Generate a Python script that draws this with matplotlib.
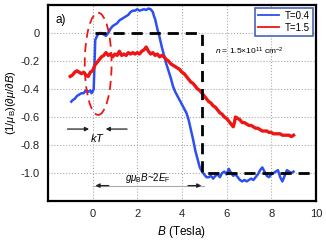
import matplotlib
matplotlib.use("Agg")
import matplotlib.pyplot as plt
from matplotlib.patches import Ellipse

plt.rcParams['font.family'] = ['Liberation Sans', 'DejaVu Sans']
plt.rcParams['mathtext.fontset'] = 'custom'
plt.rcParams['mathtext.rm'] = 'Liberation Sans'
plt.rcParams['mathtext.it'] = 'Liberation Sans:italic'

# ---- data ----
blue_x = [-0.95, -0.9, -0.8, -0.7, -0.6, -0.5, -0.4, -0.3, -0.2, -0.1, -0.05, 0.0, 0.05, 0.08, 0.12,
          0.2, 0.3, 0.4, 0.5, 0.6, 0.7, 0.8, 0.9, 1.0, 1.1, 1.2, 1.3, 1.4, 1.5, 1.6, 1.7, 1.8, 1.9,
          2.0, 2.1, 2.2, 2.3, 2.4, 2.5, 2.6, 2.7, 2.75, 2.8, 2.9, 3.0, 3.1, 3.2, 3.3, 3.4, 3.5, 3.6,
          3.7, 3.8, 3.9, 4.0, 4.1, 4.2, 4.3, 4.4, 4.5, 4.6, 4.7, 4.8, 4.9, 5.0, 5.1, 5.2, 5.3, 5.4,
          5.5, 5.6, 5.7, 5.8, 5.9, 6.0, 6.1, 6.2, 6.3, 6.4, 6.5, 6.6, 6.7, 6.8, 6.9, 7.0, 7.1, 7.2,
          7.3, 7.4, 7.5, 7.6, 7.7, 7.8, 7.9, 8.0, 8.1, 8.2, 8.3, 8.4, 8.5, 8.6, 8.7, 8.8, 8.9, 9.0]
blue_y = [-0.49, -0.48, -0.47, -0.45, -0.44, -0.43, -0.43, -0.41, -0.42, -0.41, -0.43, -0.42, -0.40, -0.25, -0.05,
          -0.02, 0.0, 0.0, -0.01, -0.02, 0.0, 0.03, 0.05, 0.06, 0.07, 0.09, 0.10, 0.11, 0.12, 0.13, 0.15, 0.16, 0.16,
          0.17, 0.16, 0.165, 0.17, 0.165, 0.175, 0.17, 0.15, 0.12, 0.10, 0.03, -0.03, -0.10, -0.16, -0.22, -0.27, -0.32, -0.38,
          -0.42, -0.45, -0.48, -0.51, -0.54, -0.57, -0.62, -0.69, -0.76, -0.84, -0.90, -0.96, -0.99, -1.01, -1.03, -1.03, -1.02, -1.04,
          -1.02, -1.01, -1.03, -1.0, -0.99, -1.01, -0.97, -1.0, -1.02, -1.01, -1.03, -1.05, -1.06, -1.05, -1.06, -1.05, -1.04, -1.05,
          -1.03, -1.01, -0.98, -0.96, -0.99, -1.02, -1.03, -1.01, -1.0, -0.99, -0.98, -1.03, -1.06, -1.02, -0.98, -0.99, -1.0, -0.99]

red_x = [-1.0, -0.9, -0.8, -0.7, -0.6, -0.5, -0.4, -0.3, -0.2, -0.1, 0.0, 0.1, 0.2, 0.3, 0.4, 0.5, 0.6,
         0.7, 0.8, 0.9, 1.0, 1.1, 1.2, 1.3, 1.4, 1.5, 1.6, 1.7, 1.8, 1.9, 2.0, 2.1, 2.2, 2.3, 2.4, 2.5,
         2.6, 2.7, 2.8, 2.9, 3.0, 3.1, 3.2, 3.3, 3.4, 3.5, 3.6, 3.7, 3.8, 3.9, 4.0, 4.1, 4.2, 4.3, 4.4,
         4.5, 4.6, 4.7, 4.8, 4.9, 5.0, 5.1, 5.2, 5.3, 5.4, 5.5, 5.6, 5.7, 5.8, 5.9, 6.0, 6.1, 6.2, 6.3,
         6.35, 6.4, 6.5, 6.6, 6.7, 6.8, 6.9, 7.0, 7.1, 7.2, 7.3, 7.4, 7.5, 7.6, 7.7, 7.8, 7.9, 8.0, 8.1,
         8.2, 8.3, 8.4, 8.5, 8.6, 8.7, 8.8, 8.9, 9.0]
red_y = [-0.31, -0.30, -0.28, -0.27, -0.28, -0.29, -0.28, -0.30, -0.31, -0.28, -0.27, -0.23, -0.21, -0.19, -0.17, -0.16, -0.14,
         -0.16, -0.15, -0.17, -0.15, -0.16, -0.13, -0.16, -0.15, -0.16, -0.14, -0.15, -0.14, -0.15, -0.14, -0.15, -0.13, -0.12, -0.10, -0.13,
         -0.15, -0.14, -0.16, -0.15, -0.17, -0.16, -0.17, -0.19, -0.20, -0.22, -0.23, -0.24, -0.25, -0.26, -0.28, -0.29, -0.31, -0.33, -0.35,
         -0.36, -0.38, -0.40, -0.41, -0.43, -0.45, -0.47, -0.49, -0.50, -0.52, -0.53, -0.55, -0.57, -0.58, -0.60, -0.61, -0.63, -0.65, -0.67,
         -0.64, -0.60, -0.61, -0.62, -0.64, -0.64, -0.65, -0.66, -0.66, -0.67, -0.68, -0.68, -0.69, -0.70, -0.70, -0.70, -0.71, -0.71, -0.72,
         -0.72, -0.72, -0.72, -0.73, -0.73, -0.73, -0.73, -0.74, -0.73]

step_x = [0.1, 4.9, 4.9, 10.0]
step_y = [0.0, 0.0, -1.0, -1.0]

x_ticks = [0, 2, 4, 6, 8, 10]
y_ticks = [0, -0.2, -0.4, -0.6, -0.8, -1.0]
y_ticklabels = ['0', '-0.2', '-0.4', '-0.6', '-0.8', '-1.0']

# ---- figure ----
fig = plt.figure(figsize=(3.26, 2.40), dpi=100)
ax = fig.add_axes([0.147, 0.1625, 0.822, 0.8165])

blue = '#2d4ff2'
red = '#ee1515'

ax.plot(blue_x, blue_y, color=blue, lw=1.8, label='T=0.4', zorder=3)
ax.plot(red_x, red_y, color=red, lw=2.4, label='T=1.5', zorder=3)
ax.plot(step_x, step_y, color='black', lw=2.0, ls=(0, (4, 2.5)), zorder=4)

ax.add_patch(Ellipse((0.25, -0.22), 1.2, 0.73, fill=False, edgecolor=red,
                     lw=1.3, ls=(0, (5, 3)), zorder=5))

ax.set_xlim(-2, 10)
ax.set_ylim(-1.2, 0.2)
ax.set_xticks(x_ticks)
ax.set_yticks(y_ticks)
ax.set_yticklabels(y_ticklabels)
ax.tick_params(length=0, labelsize=8, labelcolor='#222222', pad=6)
ax.grid(True, ls=':', color='#aaaaaa', lw=0.8)
ax.set_axisbelow(True)
for s in ax.spines.values():
    s.set_linewidth(1.6)

ax.set_xlabel(r'$B$ (Tesla)', fontsize=8.5, labelpad=3)
ax.set_ylabel(r'(1/$\mu_{\rm B}$)($\partial\mu/\partial B$)', fontsize=8, labelpad=2)

ax.text(-1.65, 0.07, 'a)', fontsize=8.5)
ax.text(5.5, -0.15, r'$n$ = 1.5×10$^{11}$ cm$^{-2}$', fontsize=6)

# kT arrows
ax.annotate('', xy=(-0.03, -0.686), xytext=(-1.25, -0.686),
            arrowprops=dict(arrowstyle='-|>', color='#222222', lw=0.9, mutation_scale=6))
ax.annotate('', xy=(0.46, -0.686), xytext=(1.67, -0.686),
            arrowprops=dict(arrowstyle='-|>', color='#222222', lw=0.9, mutation_scale=6))
ax.text(0.24, -0.75, r'$kT$', fontsize=8, ha='center', va='center')

# g mu B arrow
ax.plot([0.0, 5.0], [-1.09, -1.09], color='#aaaaaa', lw=0.8, zorder=2)
ax.annotate('', xy=(0.0, -1.09), xytext=(0.85, -1.09),
            arrowprops=dict(arrowstyle='-|>', color='#222222', lw=0.9, mutation_scale=6))
ax.annotate('', xy=(5.0, -1.09), xytext=(4.15, -1.09),
            arrowprops=dict(arrowstyle='-|>', color='#222222', lw=0.9, mutation_scale=6))
ax.text(2.45, -1.035, r'$g\mu_{\rm B}B$~2$E_{\rm F}$', fontsize=7, ha='center', va='center')

leg = ax.legend(loc='upper right', fontsize=7, frameon=True, fancybox=False,
                borderaxespad=0.3, handlelength=2.2, borderpad=0.3, labelspacing=0.2,
                handletextpad=0.6)
leg.get_frame().set_edgecolor('#1c3a9e')
leg.get_frame().set_linewidth(1.2)
for h in leg.get_lines():
    h.set_linewidth(1.3)

fig.savefig('out.png', dpi=100)
